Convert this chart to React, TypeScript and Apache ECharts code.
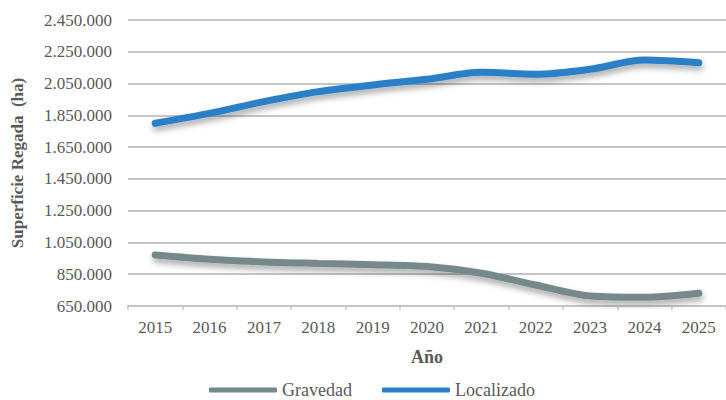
import React, { useEffect, useRef } from "react";
import * as echarts from "echarts";

const years = ["2015", "2016", "2017", "2018", "2019", "2020", "2021", "2022", "2023", "2024", "2025"];
const gravedad = [971000, 944000, 927000, 918000, 910000, 898000, 856000, 782000, 713000, 705000, 730000];
const localizado = [1800000, 1862000, 1936000, 1999000, 2041000, 2077000, 2121000, 2108000, 2140000, 2198000, 2181000];
const seriesNames = ["Gravedad", "Localizado"];
const seriesColors = ["#74898a", "#2a7fc6"];
const yMin = 650000;
const yMax = 2450000;
const yStep = 200000;

const FONT = "'Liberation Serif', 'Times New Roman', serif";
const TXT = "#595959";

function fmt(v: number): string {
  return String(v).replace(/\B(?=(\d{3})+(?!\d))/g, ".");
}

export default function App() {
  const ref = useRef<HTMLDivElement>(null);
  useEffect(() => {
    if (!ref.current) return;
    const chart = echarts.init(ref.current, null, { renderer: "svg" });
    const data = [gravedad, localizado];
    chart.setOption({
      animation: false,
      textStyle: { fontFamily: FONT, color: TXT },
      grid: { left: 128, top: 20, bottom: 94, right: -11, containLabel: false },
      legend: {
        left: 204,
        top: 376,
        itemWidth: 68,
        itemHeight: 5,
        itemGap: 30,
        icon: "roundRect",
        textStyle: { fontFamily: FONT, color: TXT, fontSize: 18 },
        data: seriesNames,
      },
      xAxis: {
        type: "category",
        data: years,
        boundaryGap: true,
        name: "Año",
        nameLocation: "middle",
        nameGap: 42,
        nameTextStyle: { fontFamily: FONT, color: TXT, fontSize: 18, fontWeight: "bold" },
        axisLine: { show: true, lineStyle: { color: "#c6c6c9", width: 2 } },
        axisTick: { show: true, length: 4, lineStyle: { color: "#c6c6c9", width: 1.5 } },
        axisLabel: { fontFamily: FONT, color: TXT, fontSize: 17, margin: 13 },
        splitLine: { show: false },
      },
      yAxis: {
        type: "value",
        min: yMin,
        max: yMax,
        interval: yStep,
        name: "Superficie Regada  (ha)",
        nameLocation: "middle",
        nameGap: 102,
        nameTextStyle: { fontFamily: FONT, color: TXT, fontSize: 17, fontWeight: "bold" },
        axisLine: { show: false },
        axisTick: { show: false },
        axisLabel: { fontFamily: FONT, color: TXT, fontSize: 17, margin: 16, formatter: (v: number) => fmt(v) },
        splitLine: { show: true, lineStyle: { color: "#c6c6c9", width: 2 } },
      },
      series: seriesNames.map((n, i) => ({
        name: n,
        type: "line",
        data: data[i],
        smooth: 0.3,
        symbol: "none",
        color: seriesColors[i],
        lineStyle: {
          color: seriesColors[i],
          width: 7,
          cap: "round",
          shadowColor: "rgba(0,0,0,0.35)",
          shadowBlur: 6,
          shadowOffsetX: 1,
          shadowOffsetY: 4,
        },
      })),
    });
    return () => chart.dispose();
  }, []);
  return (
    <div
      ref={ref}
      style={{ position: "absolute", left: 0, top: 0, width: 726, height: 400, overflow: "hidden" }}
    />
  );
}
